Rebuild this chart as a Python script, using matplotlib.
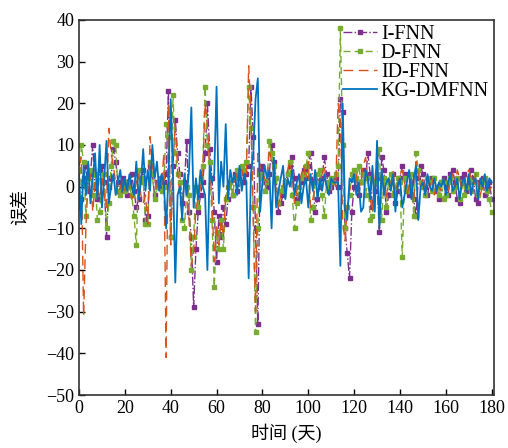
import numpy as np
import matplotlib
matplotlib.use("Agg")
import matplotlib.pyplot as plt

plt.rcParams['font.family'] = ['Liberation Serif', 'Noto Sans CJK SC']
plt.rcParams['mathtext.fontset'] = 'stix'

days = list(range(0, 181))

i_fnn = [
    -4, -3, 2, 5, -1, 3, 10, 0, -3, 4,
    5, 1, -12, 0, 2, 9, 6, 1, -1, 2,
    0, -2, 1, 3, -1, -5, -3, 2, 4, -8,
    -7, 5, 3, -2, 1, 0, 2, 1, 3, 23,
    -12, 5, 16, 8, 3, -4, 1, 11, -6, -12,
    -29, -15, -6, -2, 1, 8, 20, 9, 2, -6,
    -18, -7, -12, -5, -9, -3, 1, -2, 3, -1,
    2, 4, 1, 3, 5, 24, 12, -10, -33, 4,
    5, 1, 0, 3, 10, 6, 2, -6, -4, -2,
    1, 3, 5, 7, 2, -3, -2, 1, 4, 2,
    5, 8, 1, -6, -3, 0, 2, 7, 3, -1,
    0, 1, 2, 0, 21, 18, -10, -16, -22, -6,
    0, 2, -2, 1, 4, 2, 8, 3, -5, -1,
    2, -11, 7, 4, -6, -2, 1, 3, -4, -1,
    2, 5, 3, 0, -2, 1, -3, -7, 2, 5,
    3, 0, -2, 1, 2, -1, 0, -3, 1, 2,
    0, -2, 3, 4, 1, -3, -4, 2, 3, -1,
    1, 4, 2, -3, -4, 1, 2, -2, 0, 1,
    -3]

d_fnn = [
    -5, 10, 6, -7, 2, 4, -2, 3, -8, -6,
    1, 3, -10, -4, 5, 11, 10, -1, -2, 0,
    -1, 1, 0, -2, -7, -14, 4, 1, 2, -9,
    -9, 6, 3, -3, 0, 1, -1, 0, 15, 12,
    -12, 22, 8, 3, 1, -8, -10, 0, -2, -20,
    -12, 0, -5, 2, 5, 24, 10, 6, -8, -24,
    -11, -15, -8, -15, -3, 0, 1, -2, 2, 4,
    3, 5, 4, 6, 24, 14, -5, -35, -10, 3,
    2, -1, 1, 11, 8, 5, 2, -4, -1, 0,
    1, 3, 6, -2, -10, -4, 0, 2, 3, 5,
    8, -8, -5, 1, 3, 4, -2, -7, 1, 0,
    2, 1, 3, 5, 38, 10, -10, -5, -2, 3,
    4, 2, 5, 1, 3, -2, 2, -8, -7, 1,
    3, 9, -8, 2, -5, 1, 3, -2, 0, 2,
    1, -17, 2, -1, 0, 3, -7, 8, 4, 1,
    0, -2, 2, 1, -1, 2, 0, -2, 1, -3,
    -2, 1, 2, -1, 0, 2, -3, 1, -2, 0,
    2, -1, 1, 3, -2, 0, 1, 2, -1, -3,
    -6]

id_fnn = [
    5, 7, -31, -10, 2, 3, -6, 1, 0, -3,
    2, -2, -5, 14, 8, 5, 1, -2, 0, 1,
    -1, 2, 0, -3, -2, 1, 3, -2, -4, -2,
    -9, 12, 5, 2, -1, 3, 0, 8, -41, 20,
    -14, 6, 15, 4, -2, -5, 2, -3, -8, -19,
    -16, -5, -3, 0, 3, 20, 15, 4, -3, -18,
    -9, -14, -8, -12, -2, 1, 0, 2, 1, 3,
    0, 4, 2, 3, 29, 18, -8, -30, 8, 5,
    3, 2, 1, 9, 6, 3, -1, -5, -2, 0,
    2, 4, 6, 3, -4, -1, 1, 3, 5, 1,
    6, -5, -3, 0, 2, 1, 3, 5, 0, -2,
    1, 2, 0, 20, 16, -8, -13, -5, -1, 2,
    1, 3, -1, 2, 5, 7, 2, -3, -6, 1,
    7, -10, 4, 1, -3, 2, 0, 4, -2, 1,
    3, 4, 1, -2, 0, 2, -4, 6, 3, 0,
    2, -1, 1, 0, 2, -2, 1, 0, -1, 2,
    1, -1, 2, 3, 0, 4, 2, -1, 1, 3,
    4, 2, -1, 3, 1, -2, 0, 2, 1, -1,
    0]

kg_dmfnn = [
    3, -9, 5, -2, 6, -4, 2, 8, -3, 10,
    -5, 2, 11, -4, 0, 3, -2, 1, 4, -1,
    2, -1, 3, 0, -2, 6, -3, 1, 9, -1,
    4, -1, 10, 2, 6, -1, 3, 1, -10, 2,
    21, 3, -23, -2, 0, -8, 3, -2, 4, 19,
    -5, 2, -3, 4, 0, -2, -20, 5, 1, 3,
    24, -4, 6, 0, 15, -3, 4, 1, 3, -2,
    5, -1, 3, 1, -22, 3, 8, 21, 26, -6,
    1, 5, 2, 4, -10, 7, -5, -1, 2, 5,
    -3, 2, 0, 4, -2, 1, 3, -4, 0, 2,
    -5, 3, -1, 4, -3, 2, -1, 3, 0, -2,
    2, 1, 1, 1, -19, 20, -5, -8, 2, 1,
    3, -2, 1, -6, -5, 4, 2, -3, 5, -6,
    11, -10, 4, -2, 1, 2, -1, 3, -6, 0,
    2, -5, -2, 1, 4, -3, 2, 5, -8, 0,
    1, -2, 3, 0, -1, 2, -1, 1, 0, 2,
    -2, 1, 3, -1, 0, 2, -3, 1, 2, -1,
    3, -2, 1, 2, -3, 2, 0, 3, -1, 2,
    1]

series_names = ['I-FNN', 'D-FNN', 'ID-FNN', 'KG-DMFNN']
x_ticks = [0, 20, 40, 60, 80, 100, 120, 140, 160, 180]
y_ticks = [-50, -40, -30, -20, -10, 0, 10, 20, 30, 40]

fig = plt.figure(figsize=(5.08, 4.48), dpi=100)
ax = fig.add_axes([0.1555, 0.1183, 0.8169, 0.8371])

ax.plot(days, i_fnn, color='#7E2F8E', linestyle='-.', linewidth=1.0,
        marker='s', markersize=2.5, label=series_names[0])
ax.plot(days, d_fnn, color='#77AC30', linestyle=(0, (5, 3)), linewidth=1.0,
        marker='s', markersize=2.5, label=series_names[1])
ax.plot(days, id_fnn, color='#D95319', linestyle=(0, (7, 4)), linewidth=1.0,
        label=series_names[2])
ax.plot(days, kg_dmfnn, color='#0072BD', linestyle='-', linewidth=1.3,
        label=series_names[3])

ax.set_xlim(0, 181)
ax.set_ylim(-50, 40)
ax.set_xticks(x_ticks)
ax.set_yticks(y_ticks)
ax.set_yticklabels([str(v).replace('-', '\u2212') for v in y_ticks])
ax.tick_params(direction='in', labelsize=13, length=4, width=1,
               top=False, right=False)
for s in ax.spines.values():
    s.set_linewidth(1.2)
    s.set_color('#333333')

ax.set_xlabel('时间 (天)', fontsize=13, labelpad=5)
ax.set_ylabel('误差', fontsize=13, labelpad=12)

leg = ax.legend(loc='upper right', frameon=False, fontsize=14.5,
                handlelength=1.7, handletextpad=0.2, labelspacing=0.0,
                borderaxespad=0.15, borderpad=0.1)

fig.savefig('out.png', dpi=100)
